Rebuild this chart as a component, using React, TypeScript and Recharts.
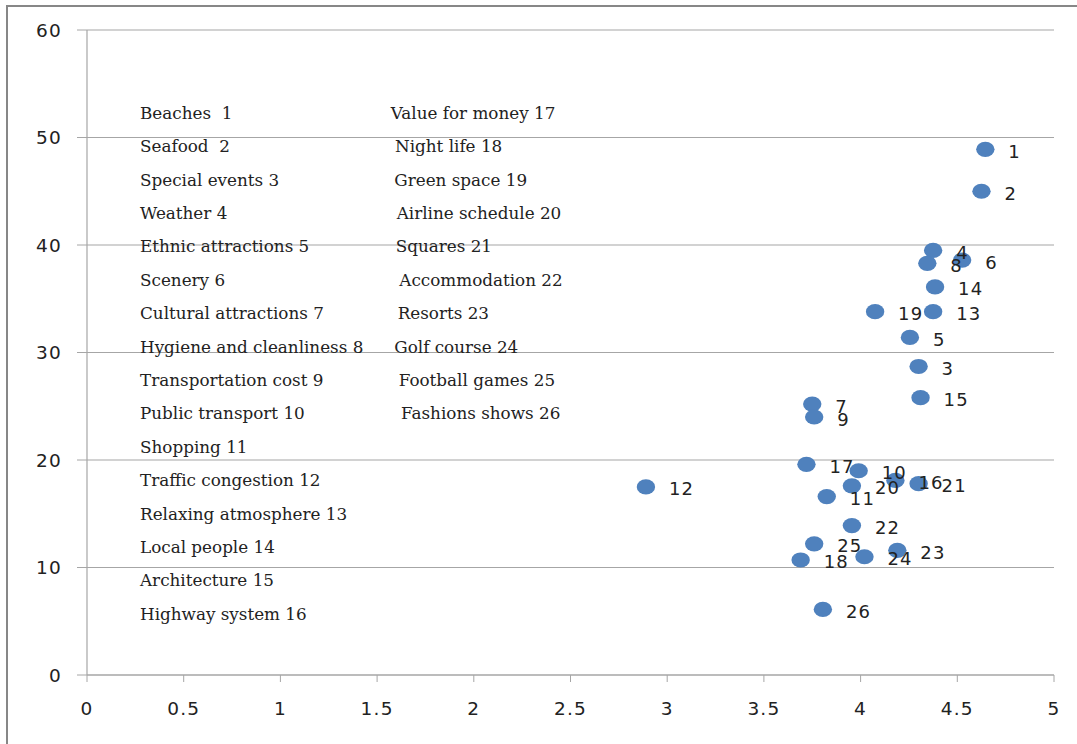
import React from 'react';
import { ScatterChart, Scatter, XAxis, YAxis, CartesianGrid } from 'recharts';

const ids = [1, 2, 3, 4, 5, 6, 7, 8, 9, 10, 11, 12, 13, 14, 15, 16, 17, 18, 19, 20, 21, 22, 23, 24, 25, 26];
const xValues = [4.645, 4.625, 4.3, 4.375, 4.255, 4.525, 3.75, 4.345, 3.76, 3.99, 3.825, 2.89, 4.375, 4.385, 4.31, 4.18, 3.72, 3.69, 4.075, 3.955, 4.3, 3.955, 4.19, 4.02, 3.76, 3.805];
const yValues = [48.9, 45.0, 28.7, 39.5, 31.4, 38.6, 25.2, 38.3, 24.0, 19.0, 16.6, 17.5, 33.8, 36.1, 25.8, 18.1, 19.6, 10.7, 33.8, 17.6, 17.8, 13.9, 11.6, 11.0, 12.2, 6.1];

const leftColumnLabels = [
  'Beaches  1',
  'Seafood  2',
  'Special events 3',
  'Weather 4',
  'Ethnic attractions 5',
  'Scenery 6',
  'Cultural attractions 7',
  'Hygiene and cleanliness 8',
  'Transportation cost 9',
  'Public transport 10',
  'Shopping 11',
  'Traffic congestion 12',
  'Relaxing atmosphere 13',
  'Local people 14',
  'Architecture 15',
  'Highway system 16',
];
const rightColumnLabels = [
  'Value for money 17',
  'Night life 18',
  'Green space 19',
  'Airline schedule 20',
  'Squares 21',
  'Accommodation 22',
  'Resorts 23',
  'Golf course 24',
  'Football games 25',
  'Fashions shows 26',
];

const xTicks = [0, 0.5, 1, 1.5, 2, 2.5, 3, 3.5, 4, 4.5, 5];
const yTicks = [0, 10, 20, 30, 40, 50, 60];

const data = ids.map((id, i) => ({ id, x: xValues[i], y: yValues[i] }));

// layout for the text annotation block
const LEGEND_TOP = 112.7;
const LEGEND_STEP = 33.4;
const LEFT_COL_X = 140;
const rightColX = [390.7, 395, 394.3, 396.7, 395.7, 399.3, 397.7, 394.3, 398.7, 401];

const GRAY = '#A6A6A6';
const TEXT = '#222';

const Marker = (p: any) => (
  <ellipse cx={p.cx} cy={p.cy} rx={9.2} ry={7.6} fill="#4F81BD" />
);

const PointLabel = (p: any) => (
  <text
    x={p.cx + 23}
    y={p.cy + 2}
    dominantBaseline="central"
    fontSize={18}
    fontFamily="DejaVu Sans"
    letterSpacing={1.2}
    fill={TEXT}
  >
    {p.payload?.id ?? p.id}
  </text>
);

const tickStyle = { fill: TEXT, fontSize: 18.5, fontFamily: 'DejaVu Sans', letterSpacing: 1.2 };

const legendStyle: React.CSSProperties = {
  position: 'absolute',
  fontFamily: '"DejaVu Serif"',
  fontSize: 16.8,
  lineHeight: '20px',
  height: 20,
  color: TEXT,
  whiteSpace: 'pre',
};

export default function App() {
  return (
    <div style={{ position: 'absolute', left: 0, top: 0, width: 1077, height: 744, background: '#fff', overflow: 'hidden' }}>
      <div
        style={{
          position: 'absolute',
          left: 6,
          top: 5,
          width: 1071,
          height: 739,
          borderLeft: '2px solid #878787',
          borderTop: '2px solid #878787',
          boxSizing: 'border-box',
        }}
      />
      <ScatterChart width={1077} height={744} margin={{ top: 30, right: 23, bottom: 0, left: 0 }}>
        <CartesianGrid vertical={false} stroke={GRAY} strokeWidth={1.2} />
        <XAxis
          type="number"
          dataKey="x"
          domain={[0, 5]}
          ticks={xTicks}
          interval={0}
          height={69}
          tickSize={7}
          tickMargin={20}
          stroke={GRAY}
          tickLine={{ stroke: GRAY }}
          axisLine={{ stroke: GRAY, strokeWidth: 1.2 }}
          tick={tickStyle}
          allowDataOverflow
        />
        <YAxis
          type="number"
          dataKey="y"
          domain={[0, 60]}
          ticks={yTicks}
          interval={0}
          width={87}
          tickSize={10}
          tickMargin={15}
          stroke={GRAY}
          tickLine={{ stroke: GRAY }}
          axisLine={{ stroke: GRAY, strokeWidth: 1.2 }}
          tick={tickStyle}
          allowDataOverflow
        />
        <Scatter data={data} shape={Marker} isAnimationActive={false} />
        <Scatter data={data} shape={PointLabel} isAnimationActive={false} />
      </ScatterChart>
      {leftColumnLabels.map((t, i) => (
        <div key={'l' + i} style={{ ...legendStyle, left: LEFT_COL_X, top: LEGEND_TOP + i * LEGEND_STEP - 10 }}>
          {t}
        </div>
      ))}
      {rightColumnLabels.map((t, i) => (
        <div key={'r' + i} style={{ ...legendStyle, left: rightColX[i], top: LEGEND_TOP + i * LEGEND_STEP - 10 }}>
          {t}
        </div>
      ))}
    </div>
  );
}
